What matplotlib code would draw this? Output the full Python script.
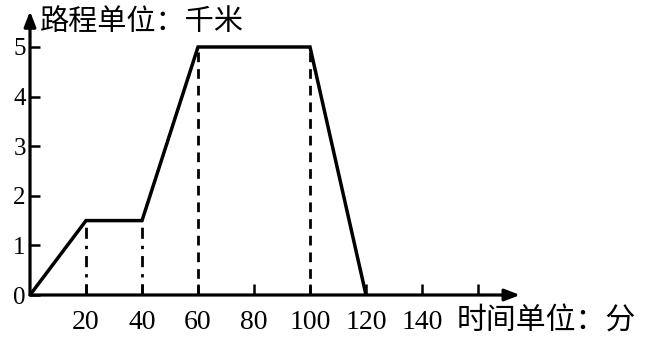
import matplotlib
matplotlib.use("Agg")
import matplotlib.pyplot as plt

# data
time_min = [0, 20, 40, 60, 100, 120]
dist_km = [0, 1.5, 1.5, 5, 5, 0]
guide_x = [20, 40, 60, 100]
guide_y = [1.5, 1.5, 5, 5]
x_ticks = [20, 40, 60, 80, 100, 120, 140, 160]
x_labels = ["20", "40", "60", "80", "100", "120", "140", ""]
y_ticks = [0, 1, 2, 3, 4, 5]

fonts = ["Liberation Serif", "Noto Sans CJK SC", "DejaVu Sans"]
plt.rcParams["font.family"] = fonts

fig = plt.figure(figsize=(6.49, 3.40), dpi=100)
W, H = 649, 340
# origin at pixel (30, 295), 2.8 px per min, 49.6 px per km
x0, y0 = 30, 295
xmax, ymax = 180, 5.9
ax = fig.add_axes([x0 / W, (H - y0) / H, xmax * 2.8 / W, ymax * 49.6 / H])
ax.set_xlim(0, xmax)
ax.set_ylim(0, ymax)
for s in ax.spines.values():
    s.set_visible(False)

# axes with arrows
arrow = dict(arrowstyle="-|>,head_length=0.9,head_width=0.35", lw=2.3, color="black",
             shrinkA=0, shrinkB=0)
ax.annotate("", xy=(175, 0), xytext=(0, 0), arrowprops=arrow, annotation_clip=False)
ax.annotate("", xy=(0, 5.72), xytext=(0, 0), arrowprops=arrow, annotation_clip=False)

# guide lines
for gx, gy in zip(guide_x, guide_y):
    style = (0, (4, 2.5, 1.2, 2.5)) if gy < 2 else (0, (3.5, 2.5))
    ax.plot([gx, gx], [0, gy], color="black", lw=2, linestyle=style)

ax.plot(time_min, dist_km, color="black", lw=2.5, solid_joinstyle="miter")

ax.set_xticks(x_ticks)
ax.set_xticklabels(x_labels)
ax.set_yticks(y_ticks)
ax.tick_params(axis="x", direction="in", length=8, width=1.8, pad=11, labelsize=20)
ax.tick_params(axis="y", direction="in", length=7, width=1.8, pad=3, labelsize=18)

fig.text(40 / W, 1 - 22 / H, "路程单位：千米", fontsize=21, va="center", ha="left",
         family=["Noto Sans CJK SC"])
fig.text(457 / W, 1 - 321 / H, "时间单位：分", fontsize=21.5, va="center", ha="left",
         family=["Noto Sans CJK SC"])

fig.savefig("out.png", dpi=100)
